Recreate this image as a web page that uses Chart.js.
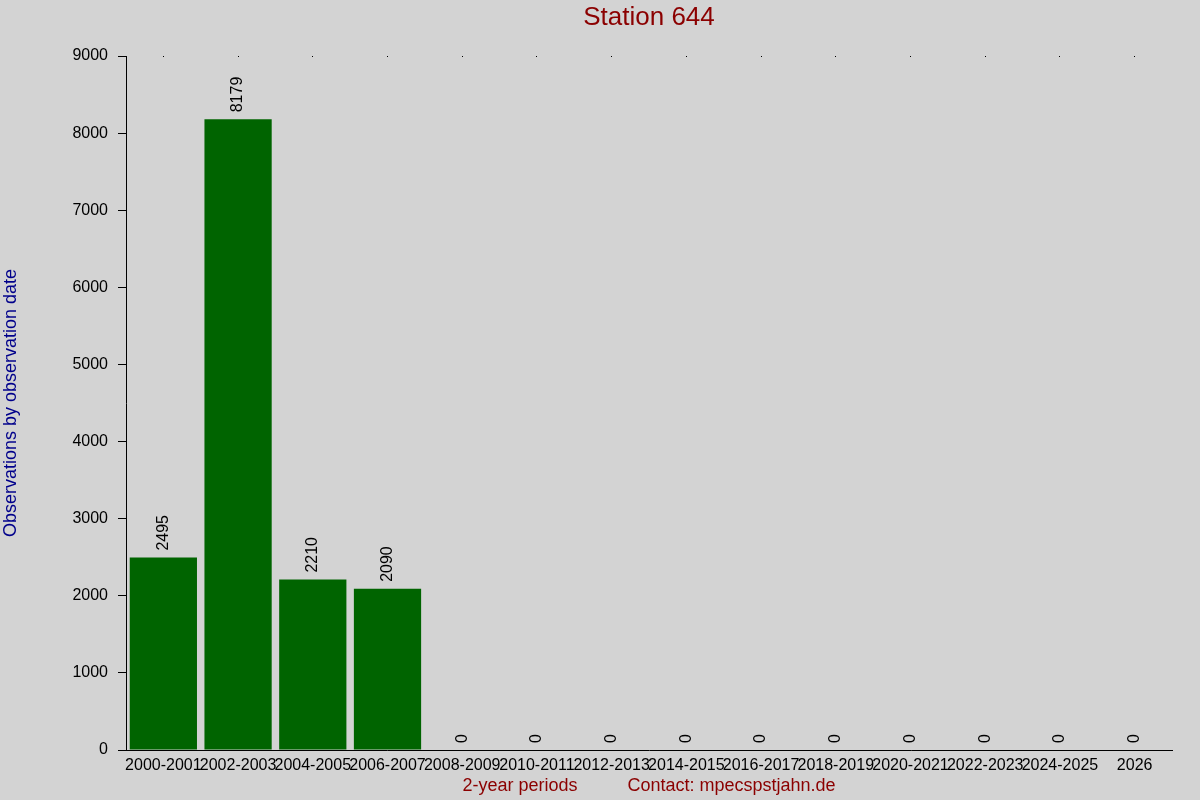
<!DOCTYPE html>
<html>
<head>
<meta charset="utf-8">
<script src="https://cdn.jsdelivr.net/npm/chart.js@4"></script>
<style>
html,body{margin:0;padding:0;background:#d3d3d3;overflow:hidden;}
canvas{display:block;}
</style>
</head>
<body>
<canvas id="c" width="1200" height="800"></canvas>
<script>
const categories = ['2000-2001','2002-2003','2004-2005','2006-2007','2008-2009','2010-2011','2012-2013','2014-2015','2016-2017','2018-2019','2020-2021','2022-2023','2024-2025','2026'];
const observations = [2495, 8179, 2210, 2090, 0, 0, 0, 0, 0, 0, 0, 0, 0, 0];
const yMin = 0, yMax = 9000, yStep = 1000;
const chartTitle = 'Station 644';
const yTitle = 'Observations by observation date';
const xTitle = '2-year periods          Contact: mpecspstjahn.de';

const FONT = '"Liberation Sans", Arial, sans-serif';

const bgPlugin = {
  id: 'bg',
  beforeDraw(chart) {
    const ctx = chart.ctx;
    ctx.save();
    ctx.fillStyle = '#d3d3d3';
    ctx.fillRect(0, 0, chart.width, chart.height);
    ctx.restore();
  }
};

const titlePlugin = {
  id: 'areaTitle',
  afterDraw(chart) {
    const ctx = chart.ctx, a = chart.chartArea;
    ctx.save();
    ctx.font = '26px ' + FONT;
    ctx.fillStyle = '#8b0000';
    ctx.textAlign = 'center';
    ctx.textBaseline = 'middle';
    ctx.fillText(chartTitle, (a.left + a.right) / 2, 18);
    ctx.restore();
  }
};

const valuePlugin = {
  id: 'values',
  afterDatasetsDraw(chart) {
    const ctx = chart.ctx;
    const meta = chart.getDatasetMeta(0);
    ctx.save();
    ctx.font = '16px ' + FONT;
    ctx.fillStyle = '#000';
    ctx.textAlign = 'left';
    ctx.textBaseline = 'middle';
    meta.data.forEach((bar, i) => {
      ctx.save();
      ctx.translate(bar.x, bar.y - 7);
      ctx.rotate(-Math.PI / 2);
      ctx.fillText(String(observations[i]), 0, 0);
      ctx.restore();
    });
    ctx.restore();
  }
};

new Chart(document.getElementById('c'), {
  type: 'bar',
  data: {
    labels: categories,
    datasets: [{
      data: observations,
      backgroundColor: '#006400',
      borderWidth: 0,
      barPercentage: 0.9,
      categoryPercentage: 1.0
    }]
  },
  options: {
    responsive: false,
    animation: false,
    devicePixelRatio: 1,
    layout: { padding: { top: 56, right: 28, left: 0, bottom: 0 } },
    plugins: {
      legend: { display: false },
      title: { display: false },
      tooltip: { enabled: false }
    },
    scales: {
      x: {
        afterFit(s) { s.height = 50; },
        offset: true,
        grid: {
          offset: false,
          display: true,
          drawOnChartArea: true,
          drawTicks: false,
          color: '#000',
          lineWidth: 1
        },
        border: { display: true, color: '#000', width: 1, dash: [1, 3000] },
        ticks: {
          autoSkip: false,
          maxRotation: 0,
          minRotation: 0,
          padding: 6,
          color: '#000',
          font: { family: FONT, size: 16 }
        },
        title: {
          display: true,
          text: xTitle,
          color: '#8b0000',
          font: { family: FONT, size: 18 },
          padding: { top: 0, bottom: 3 }
        }
      },
      y: {
        afterFit(s) { s.width = 126; },
        min: yMin,
        max: yMax,
        ticks: {
          stepSize: yStep,
          padding: 10,
          color: '#000',
          font: { family: FONT, size: 16 },
          callback: (v) => String(v)
        },
        grid: {
          drawOnChartArea: false,
          drawTicks: true,
          tickLength: 8,
          color: '#000'
        },
        border: { display: true, color: '#000', width: 1 },
        title: {
          display: true,
          text: yTitle,
          color: '#00008b',
          font: { family: FONT, size: 18 },
          padding: 0
        }
      }
    }
  },
  plugins: [bgPlugin, titlePlugin, valuePlugin]
});
</script>
</body>
</html>
